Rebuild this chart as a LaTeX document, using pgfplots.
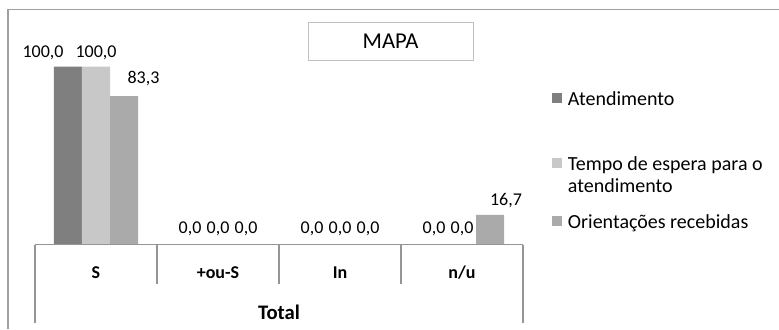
\documentclass[border=0pt]{standalone}
\usepackage{pgfplots}
\usepackage{pgfplotstable}
\pgfplotsset{compat=1.18}
\usepackage{fontspec}
\setmainfont{Carlito}

\definecolor{serA}{HTML}{7F7F7F}
\definecolor{serB}{HTML}{C8C8C8}
\definecolor{serC}{HTML}{AAAAAA}
\definecolor{frame}{HTML}{A0A0A0}
\definecolor{gridl}{HTML}{959595}
\definecolor{boxl}{HTML}{C0C0C0}

% x = category (0 S, 1 +ou-S, 2 In, 3 n/u); dx, dy = label offset in pt
\pgfplotstableread{
x y dx dy
0 100 -18.75 6.75
1 0 0 8.25
2 0 0 8.25
3 0 0 8.25
}\atend
\pgfplotstableread{
x y dx dy
0 100 0 6.75
1 0 0 8.25
2 0 0 8.25
3 0 0 8.25
}\tempo
\pgfplotstableread{
x y dx dy
0 83.3 14.6 9.75
1 0 0 8.25
2 0 0 8.25
3 16.7 12 6.75
}\orient

\begin{document}
\begin{tikzpicture}
\useasboundingbox (0,0) rectangle (584.25pt,246.75pt);
\draw[frame, line width=1.1pt] (6pt,0) -- (6pt,239.6pt) -- (584.25pt,239.6pt);
\begin{axis}[
  at={(26.25pt,63.375pt)}, anchor=south west,
  scale only axis, width=366pt, height=160.2pt,
  xmin=-0.5, xmax=3.5, ymin=0, ymax=120,
  ybar=0pt, bar width=21pt,
  axis line style={draw=none},
  ytick=\empty, xtick={0,1,2,3},
  xticklabels={\textbf{S},\textbf{+ou-S},\textbf{In},\textbf{n/u}},
  major tick length=0pt,
  xticklabel style={anchor=base, yshift=-25.125pt, font=\fontsize{13.5}{15}\bfseries},
  xlabel={\textbf{Total}},
  xlabel style={at={(axis description cs:0.5,0)}, anchor=base, yshift=-55.875pt, font=\fontsize{15.5}{17}\selectfont},
  title={MAPA},
  title style={at={(axis description cs:0.7285,0.9152)}, anchor=center, draw=boxl, line width=0.75pt, minimum width=123.75pt, minimum height=28.5pt, inner sep=0pt, font=\fontsize{17}{19}\selectfont},
  clip=false,
  /pgf/number format/assume math mode=true,
  visualization depends on={\thisrow{dx} \as \lblx},
  visualization depends on={\thisrow{dy} \as \lbly},
  nodes near coords={\pgfmathprintnumber[fixed,fixed zerofill,precision=1,use comma]{\pgfplotspointmeta}},
  every node near coord/.append style={anchor=base, xshift=\lblx*1pt, yshift=\lbly*1pt, inner sep=0pt, font=\fontsize{13.5}{15}\selectfont, text=black},
  legend style={at={(axis description cs:1.0594,0.728)}, anchor=north west, draw=none, fill=none, inner sep=0pt, outer sep=0pt, row sep=0pt, column sep=4.5pt, cells={anchor=base west}, nodes={inner sep=0pt, text depth=}, font=\fontsize{15}{16.5}\selectfont},
]
\addplot[fill=serA, draw=none, legend image code/.code={\fill[serA] (0pt,1.5pt) rectangle (7.5pt,9pt);}] table[x=x,y=y]{\atend};
\addlegendentry{Atendimento\rule[-36.75pt]{0pt}{48.75pt}}
\addplot[fill=serB, draw=none, legend image code/.code={\fill[serB] (0pt,1.5pt) rectangle (7.5pt,9pt);}] table[x=x,y=y]{\tempo};
\addlegendentry{\parbox[t]{150pt}{\rule{0pt}{12pt}Tempo de espera para o\\atendimento\rule[-15pt]{0pt}{15pt}}}
\addplot[fill=serC, draw=none, legend image code/.code={\fill[serC] (0pt,1.5pt) rectangle (7.5pt,9pt);}] table[x=x,y=y]{\orient};
\addlegendentry{\rule{0pt}{12pt}Orientações recebidas}

\draw[gridl, line width=1pt] (axis cs:-0.5,0) -- (axis cs:3.5,0);
\draw[gridl, line width=1pt] (axis cs:0.5,0) -- ([yshift=-29.6pt]axis cs:0.5,0);
\draw[gridl, line width=1pt] (axis cs:1.5,0) -- ([yshift=-29.6pt]axis cs:1.5,0);
\draw[gridl, line width=1pt] (axis cs:2.5,0) -- ([yshift=-29.6pt]axis cs:2.5,0);
\draw[gridl, line width=1pt] (axis cs:-0.5,0) -- ([yshift=-58.9pt]axis cs:-0.5,0);
\draw[gridl, line width=1pt] (axis cs:3.5,0) -- ([yshift=-58.9pt]axis cs:3.5,0);
\end{axis}
\end{tikzpicture}
\end{document}
